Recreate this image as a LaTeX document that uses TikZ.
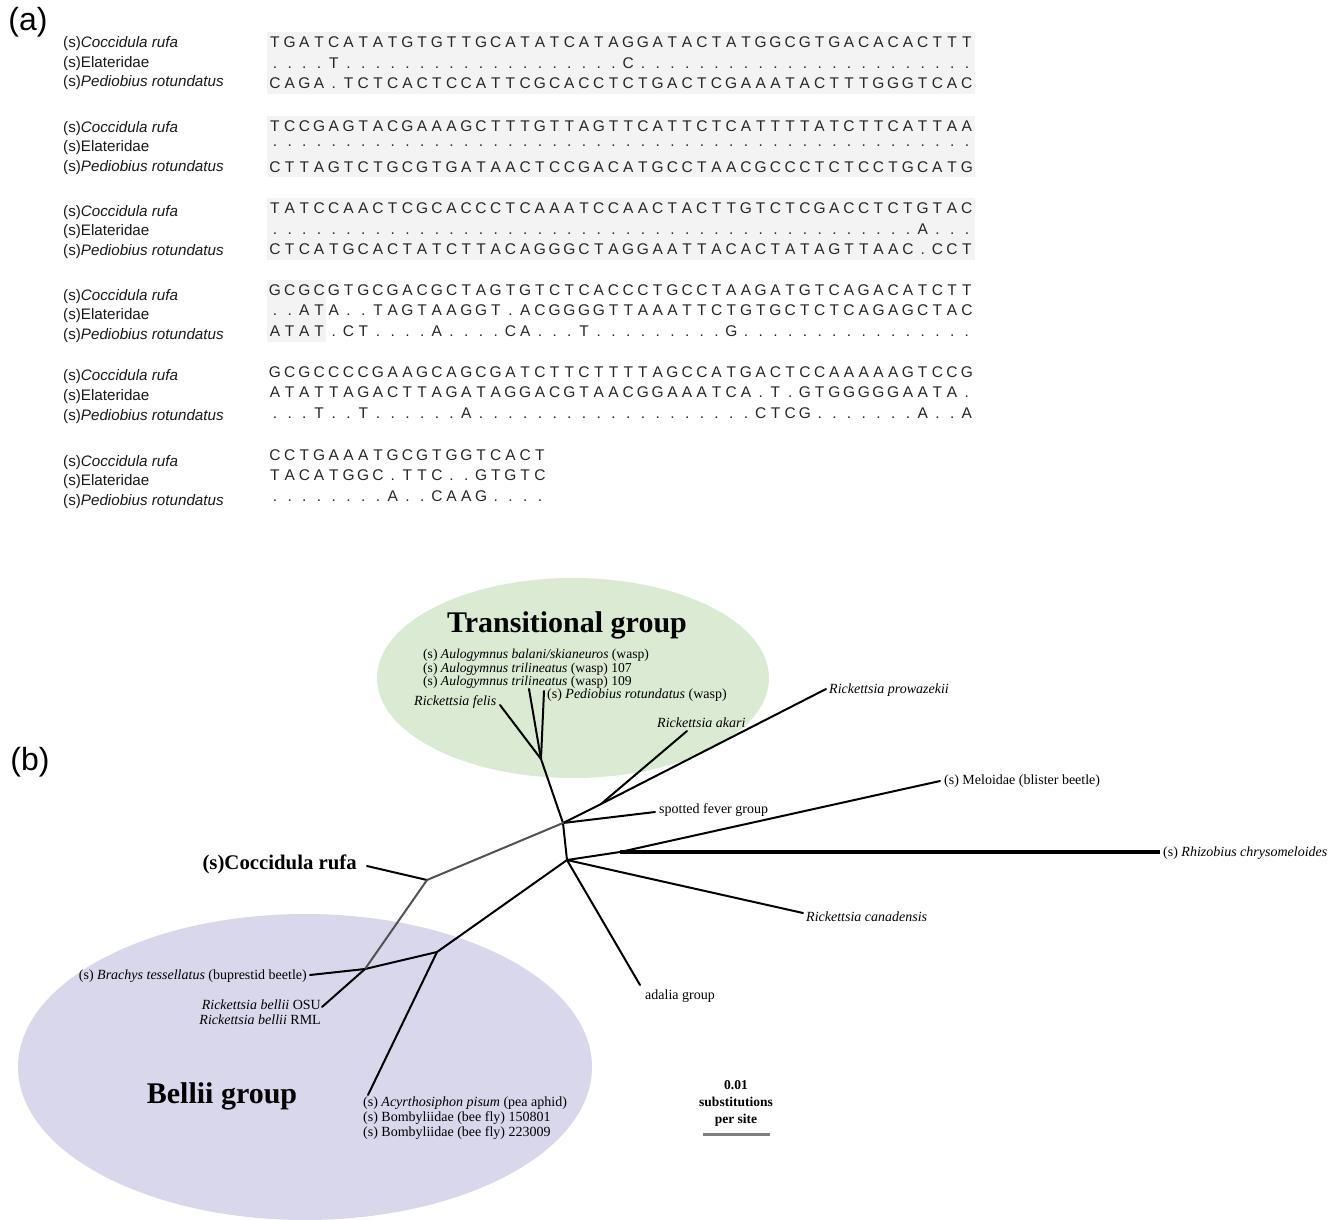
\documentclass[tikz,border=0pt]{standalone}
\usepackage{fontspec}
\setmainfont{Liberation Serif}
\newfontfamily\arialf{Liberation Sans}
\definecolor{tgreen}{RGB}{218,234,211}
\definecolor{bpurple}{RGB}{217,215,236}
\definecolor{seqshade}{RGB}{243,243,243}
\newcommand\seqrow[1]{\seqaux#1\relax}
\def\seqaux#1{\ifx\relax#1\else\makebox[14.72pt][c]{#1}\expandafter\seqaux\fi}
\begin{document}
\begin{tikzpicture}[x=1pt,y=-1pt,
  seq/.style={anchor=west, inner sep=0, font=\arialf\fontsize{15.5}{15}\selectfont, text=black!85},
  lab/.style={anchor=west, inner sep=0, font=\arialf\fontsize{15.2}{15}\selectfont, text=black!90},
  panel/.style={inner sep=0, font=\arialf\fontsize{32}{32}\selectfont},
  tl/.style={inner sep=0, font=\fontsize{14}{15}\selectfont},
  grp/.style={inner sep=0, font=\bfseries\fontsize{30}{30}\selectfont},
  br/.style={line width=2pt, black, line cap=round},
  gbr/.style={line width=2pt, black!68, line cap=round},
  shadebox/.style={fill=seqshade, draw=none}]
\useasboundingbox (0,0) rectangle (1339,1220);

% ---------- (a) ----------
\node[panel] (pa) at (28,22) {(a)};

\fill[shadebox] (267,32) rectangle (975,94);
\fill[shadebox] (267,116) rectangle (975,177);
\fill[shadebox] (267,198) rectangle (975,260);
\fill[shadebox] (267,280) rectangle (326,342);

% block 1
\node[lab] (l11) at (63,44) {(s)\textit{Coccidula rufa}};
\node[lab] (l12) at (63,64) {(s)Elateridae};
\node[lab] (l13) at (63,83) {(s)\textit{Pediobius rotundatus}};
\node[seq] (s11) at (267.4,42) {\seqrow{TGATCATATGTGTTGCATATCATAGGATACTATGGCGTGACACACTTT}};
\node[seq] (s12) at (267.4,63) {\seqrow{....T .......... ......... C .......... .......... ...}};
\node[seq] (s13) at (267.4,83) {\seqrow{CAGA.TCTCACTCCATTCGCACCTCTGACTCGAAATACTTTGGGTCAC}};
% block 2
\node[lab] (l21) at (63,129) {(s)\textit{Coccidula rufa}};
\node[lab] (l22) at (63,148) {(s)Elateridae};
\node[lab] (l23) at (63,168) {(s)\textit{Pediobius rotundatus}};
\node[seq] (s21) at (267.4,126) {\seqrow{TCCGAGTACGAAAGCTTTGTTAGTTCATTCTCATTTTATCTTCATTAA}};
\node[seq] (s22) at (267.4,146) {\seqrow{.......... .......... .......... .......... ........}};
\node[seq] (s23) at (267.4,167) {\seqrow{CTTAGTCTGCGTGATAACTCCGACATGCCTAACGCCCTCTCCTGCATG}};
% block 3
\node[lab] (l31) at (63,213) {(s)\textit{Coccidula rufa}};
\node[lab] (l32) at (63,232) {(s)Elateridae};
\node[lab] (l33) at (63,252) {(s)\textit{Pediobius rotundatus}};
\node[seq] (s31) at (267.4,208) {\seqrow{TATCCAACTCGCACCCTCAAATCCAACTACTTGTCTCGACCTCTGTAC}};
\node[seq] (s32) at (267.4,229) {\seqrow{.......... .......... .......... .......... .... A ...}};
\node[seq] (s33) at (267.4,249) {\seqrow{CTCATGCACTATCTTACAGGGCTAGGAATTACACTATAGTTAAC.CCT}};
% block 4
\node[lab] (l41) at (63,297) {(s)\textit{Coccidula rufa}};
\node[lab] (l42) at (63,316) {(s)Elateridae};
\node[lab] (l43) at (63,336) {(s)\textit{Pediobius rotundatus}};
\node[seq] (s41) at (267.4,290) {\seqrow{GCGCGTGCGACGCTAGTGTCTCACCCTGCCTAAGATGTCAGACATCTT}};
\node[seq] (s42) at (267.4,310) {\seqrow{..ATA..TAGTAAGGT.ACGGGGTTAAATTCTGTGCTCTCAGAGCTAC}};
\node[seq] (s43) at (267.4,331) {\seqrow{ATAT.CT .... A .... CA ... T ......... G .......... ......}};
% block 5
\node[lab] (l51) at (63,377) {(s)\textit{Coccidula rufa}};
\node[lab] (l52) at (63,397) {(s)Elateridae};
\node[lab] (l53) at (63,417) {(s)\textit{Pediobius rotundatus}};
\node[seq] (s51) at (267.4,372) {\seqrow{GCGCCCCGAAGCAGCGATCTTCTTTTAGCCATGACTCCAAAAAGTCCG}};
\node[seq] (s52) at (267.4,392) {\seqrow{ATATTAGACTTAGATAGGACGTAACGGAAATCA.T.GTGGGGGAATA.}};
\node[seq] (s53) at (267.4,413) {\seqrow{...T..T ...... A .......... ......... CTCG ....... A .. A}};
% block 6
\node[lab] (l61) at (63,463) {(s)\textit{Coccidula rufa}};
\node[lab] (l62) at (63,482) {(s)Elateridae};
\node[lab] (l63) at (63,502) {(s)\textit{Pediobius rotundatus}};
\node[seq] (s61) at (267.4,455) {\seqrow{CCTGAAATGCGTGGTCACT}};
\node[seq] (s62) at (267.4,475) {\seqrow{TACATGGC.TTC..GTGTC}};
\node[seq] (s63) at (267.4,496) {\seqrow{........ A .. CAAG ....}};

% ---------- (b) ----------
\node[panel] (pb) at (30,762) {(b)};

\fill[tgreen] (573,678) ellipse [x radius=196, y radius=100];
\fill[bpurple] (305,1067) ellipse [x radius=287, y radius=153];

\node[grp] (tg) at (567,625) {Transitional group};
\node[grp] (bg) at (222,1096) {Bellii group};

% internal nodes
\coordinate (Nt) at (541,759);
\coordinate (N2) at (563,823);
\coordinate (N3) at (567,860);
\coordinate (N1) at (427,880);
\coordinate (Nb) at (437,952);
\coordinate (Nbt) at (365,969);
\coordinate (Nk) at (601,804);
\coordinate (NR) at (620,852);
% leaf ends
\coordinate (felisE) at (500,705);
\coordinate (aulaE) at (529,689);
\coordinate (aulbE) at (544,691);
\coordinate (akE) at (687,731);
\coordinate (prowE) at (826,689);
\coordinate (sfgE) at (655,812);
\coordinate (melE) at (940,781);
\coordinate (rhizE) at (1160,852);
\coordinate (canE) at (803,913);
\coordinate (adaE) at (640,985);
\coordinate (acyE) at (368,1095);
\coordinate (belE) at (322,1007);
\coordinate (braE) at (310,975);
\coordinate (cocE) at (367,866);

% labels
\node[tl, anchor=west, align=left, font=\fontsize{13.6}{11}\selectfont] (aul) at (423,669)
  {(s) \textit{Aulogymnus balani/skianeuros} (wasp)\\(s) \textit{Aulogymnus trilineatus} (wasp) 107\\(s) \textit{Aulogymnus trilineatus} (wasp) 109};
\node[tl, anchor=west] (ped) at (547,695) {(s) \textit{Pediobius rotundatus} (wasp)};
\node[tl, anchor=west] (fel) at (414,702) {\textit{Rickettsia felis}};
\node[tl, anchor=west] (aka) at (657,723) {\textit{Rickettsia akari}};
\node[tl, anchor=west] (prow) at (829,690) {\textit{Rickettsia prowazekii}};
\node[tl, anchor=west] (sfg) at (659,810) {spotted fever group};
\node[tl, anchor=west] (mel) at (944,781) {(s) Meloidae (blister beetle)};
\node[tl, anchor=west] (rhiz) at (1163,853) {(s) \textit{Rhizobius chrysomeloides}};
\node[tl, anchor=west] (can) at (806,917) {\textit{Rickettsia canadensis}};
\node[tl, anchor=west] (ada) at (645,996) {adalia group};
\node[tl, anchor=east] (bra) at (307,976) {(s) \textit{Brachys tessellatus} (buprestid beetle)};
\node[tl, anchor=east, align=right, font=\fontsize{14}{15}\selectfont] (bel) at (321,1012)
  {\textit{Rickettsia bellii} OSU\\\textit{Rickettsia bellii} RML};
\node[tl, anchor=west, align=left, font=\fontsize{14}{15}\selectfont] (acy) at (363,1118)
  {(s) \textit{Acyrthosiphon pisum} (pea aphid)\\(s) Bombyliidae (bee fly) 150801\\(s) Bombyliidae (bee fly) 223009};
\node[tl, anchor=east, font=\bfseries\fontsize{20.8}{20}\selectfont] (coc) at (357,864) {(s)Coccidula rufa};
\node[tl, align=center, font=\bfseries\fontsize{13.5}{17}\selectfont] (scl) at (736,1103)
  {0.01\\substitutions\\per site};
\coordinate (sbL) at (703,1134);
\coordinate (sbR) at (770,1134);
\draw[line width=3pt, black!50] (sbL) -- (sbR);

% branches
\draw[br] (Nt) -- (felisE);
\draw[br] (Nt) -- (aulaE);
\draw[br] (Nt) -- (aulbE);
\draw[br] (Nt) -- (N2);
\draw[br] (N2) -- (Nk) -- (prowE);
\draw[br] (Nk) -- (akE);
\draw[br] (N2) -- (sfgE);
\draw[br] (N2) -- (N3);
\draw[br] (N3) -- (NR) -- (melE);
\draw[line width=3.2pt, black] (NR) -- (rhizE);
\draw[br] (N3) -- (canE);
\draw[br] (N3) -- (adaE);
\draw[br] (N3) -- (Nb);
\draw[br] (Nb) -- (acyE);
\draw[br] (Nb) -- (Nbt) -- (braE);
\draw[gbr] (N2) -- (N1);
\draw[br] (cocE) -- (N1);
\draw[gbr] (N1) -- (Nbt);
\draw[br] (Nbt) -- (belE);
\end{tikzpicture}
\end{document}
